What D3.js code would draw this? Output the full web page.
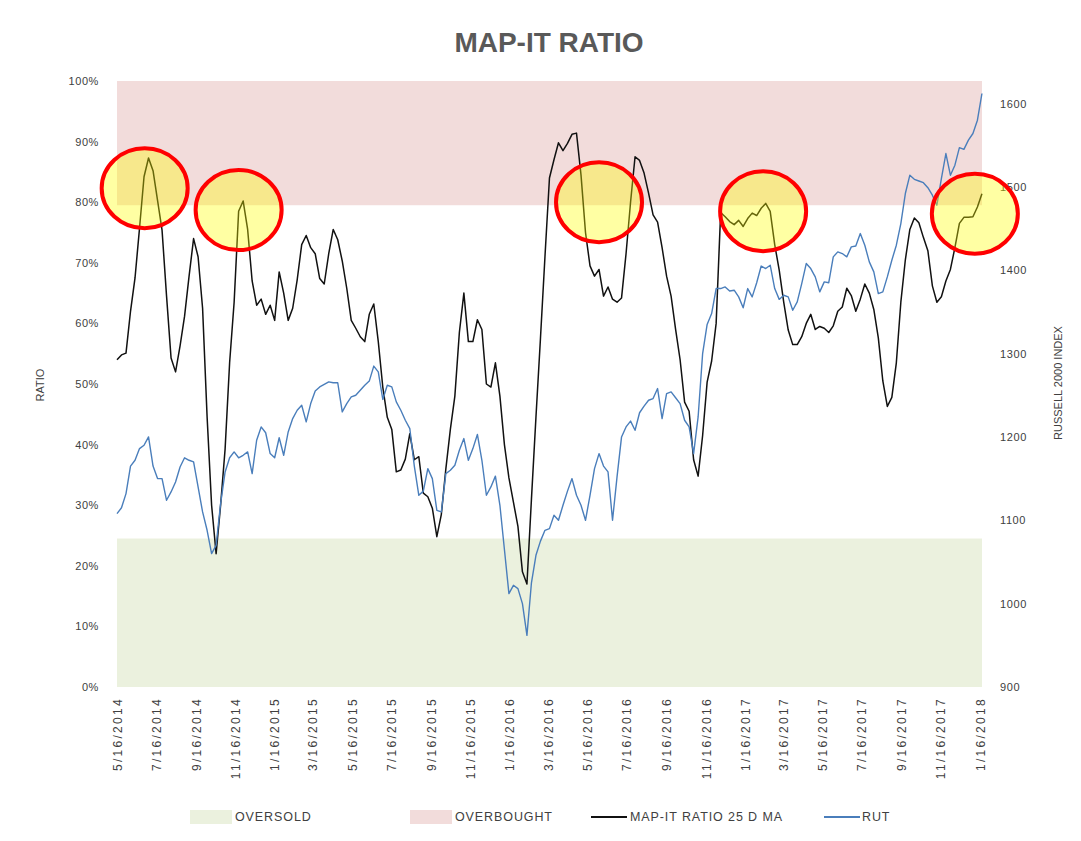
<!DOCTYPE html>
<meta charset="utf-8">
<style>
  body { margin: 0; background: #fff; }
  svg text { font-family: 'Liberation Sans', Arial, sans-serif; fill: #404040; }
  .tick text { font-size: 11px; letter-spacing: 0.6px; }
  .xaxis .tick text { font-size: 12px; letter-spacing: 2.3px; }
  .legend text { font-size: 12.5px; letter-spacing: 0.9px; }
</style>
<body>
<svg id="chart" width="1081" height="841"></svg>
<script src="https://cdn.jsdelivr.net/npm/d3@7"></script>
<script>
// weekly closes, first week below
var firstWeek = "2014-05-16";

// MAP-IT ratio 25 DMA, percent
var ratio = [
  54.0, 54.8, 55.1, 62.0, 67.5, 75.7, 84.2, 87.3, 85.2, 80.3,
  75.4, 64.5, 54.3, 52.0, 56.3, 61.2, 67.8, 74.0, 71.0, 62.5,
  44.6, 30.0, 22.0, 30.0, 39.3, 53.5, 63.5, 78.5, 80.2, 75.5,
  67.0, 63.0, 64.0, 61.5, 63.0, 60.5, 68.5, 65.0, 60.5, 62.5,
  67.2, 73.0, 74.5, 72.5, 71.5, 67.4, 66.5, 71.5, 75.5, 73.8,
  70.3, 65.8, 60.5, 59.2, 57.8, 57.0, 61.5, 63.2, 57.0, 49.5,
  44.5, 42.5, 35.5, 35.8, 37.6, 41.8, 37.5, 38.0, 32.0, 31.4,
  29.5, 24.8, 28.5, 36.0, 42.5, 48.0, 58.5, 65.0, 57.0, 57.0,
  60.6, 59.0, 50.0, 49.5, 53.5, 48.0, 40.0, 34.5, 30.5, 26.5,
  19.0, 17.0, 31.0, 44.5, 57.5, 71.0, 84.0, 87.0, 89.8, 88.5,
  89.7, 91.2, 91.4, 84.5, 75.0, 69.5, 67.8, 68.9, 64.5, 66.0,
  64.0, 63.5, 64.2, 71.5, 80.0, 87.5, 86.9, 84.8, 81.5, 77.9,
  76.7, 72.5, 67.8, 64.5, 59.0, 54.0, 47.0, 45.5, 37.5, 34.8,
  41.5, 50.3, 53.8, 60.0, 78.3, 77.6, 76.8, 76.3, 77.0, 76.0,
  77.3, 78.2, 77.8, 79.0, 79.8, 78.5, 73.0, 68.8, 63.5, 58.9,
  56.5, 56.5, 57.8, 60.0, 61.5, 59.0, 59.5, 59.2, 58.5, 59.6,
  62.0, 62.7, 65.8, 64.6, 62.0, 64.0, 66.5, 65.0, 62.3, 57.6,
  50.5, 46.3, 47.8, 53.5, 63.5, 70.5, 75.5, 77.4, 76.6, 74.2,
  72.0, 66.2, 63.5, 64.4, 67.0, 68.9, 72.5, 76.5, 77.5, 77.5,
  77.6, 79.2, 81.4
];

// Russell 2000 (RUT)
var rut = [
  1108, 1115, 1132, 1165, 1172, 1186, 1190, 1200, 1165, 1150,
  1150, 1124, 1134, 1146, 1164, 1175, 1172, 1170, 1140, 1110,
  1088, 1060, 1070, 1120, 1158, 1175, 1182, 1175, 1178, 1182,
  1156, 1196, 1212, 1205, 1180, 1175, 1199, 1178, 1206, 1222,
  1232, 1238, 1218, 1240, 1255, 1260, 1263, 1266, 1265, 1265,
  1230, 1240, 1248, 1250, 1256, 1262, 1267, 1285, 1278, 1245,
  1262, 1260, 1242, 1232, 1220, 1210, 1165, 1130, 1135, 1162,
  1150, 1112, 1110, 1156, 1160, 1166, 1184, 1198, 1172, 1186,
  1203, 1172, 1130, 1140, 1153, 1118, 1065, 1012, 1022, 1018,
  1000, 962, 1025, 1058, 1075, 1088, 1090, 1106, 1100, 1118,
  1135, 1150, 1130, 1118, 1100, 1130, 1162, 1180, 1165, 1158,
  1100, 1152, 1200, 1212, 1219, 1208, 1229, 1237, 1244, 1246,
  1258, 1222, 1252, 1254, 1247, 1240, 1220, 1212, 1180, 1224,
  1300, 1335, 1348, 1378, 1378, 1380, 1375, 1376, 1368, 1355,
  1378, 1368, 1385, 1405, 1402, 1406, 1378, 1365, 1370, 1368,
  1352, 1362, 1384, 1408, 1402, 1392, 1374, 1386, 1385, 1416,
  1422, 1420, 1416, 1428, 1429, 1444, 1430, 1410, 1398, 1372,
  1374, 1392, 1412, 1430, 1456, 1492, 1514, 1509, 1507, 1505,
  1499, 1490, 1478, 1510, 1540, 1514, 1526, 1547, 1545, 1556,
  1564, 1580, 1612
];

var tickLabels = [
  "5/16/2014", "7/16/2014", "9/16/2014", "11/16/2014", "1/16/2015", "3/16/2015",
  "5/16/2015", "7/16/2015", "9/16/2015", "11/16/2015", "1/16/2016", "3/16/2016",
  "5/16/2016", "7/16/2016", "9/16/2016", "11/16/2016", "1/16/2017", "3/16/2017",
  "5/16/2017", "7/16/2017", "9/16/2017", "11/16/2017", "1/16/2018"
];

var ratioTicks = [0, 10, 20, 30, 40, 50, 60, 70, 80, 90, 100];
var rutTicks = [900, 1000, 1100, 1200, 1300, 1400, 1500, 1600];

// zones on the ratio axis
var zoneNames = ["OVERSOLD", "OVERBOUGHT"];
var zoneLow = [0, 79.5];
var zoneHigh = [24.5, 100];

// highlighted spots
var markDates = ["2014-06-28", "2014-11-21", "2016-06-03", "2017-02-13", "2018-01-08"];
var markRatio = [82.3, 78.7, 80.0, 78.5, 78.1];

var zoneColor = { "OVERSOLD": "#ebf1de", "OVERBOUGHT": "#f2dcdb" };

var svg = d3.select("#chart");
var parseIso = d3.timeParse("%Y-%m-%d"),
    parseUs = d3.timeParse("%m/%d/%Y");

var start = parseIso(firstWeek);
var weeks = ratio.map(function(v, i) {
  return { date: d3.timeDay.offset(start, 7 * i), ratio: v, rut: rut[i] };
});

var plotLeft = 117, plotRight = 982, plotTop = 81, plotBottom = 687;

var x = d3.scaleTime()
    .domain([parseIso("2014-05-16"), parseIso("2018-01-16")])
    .range([plotLeft, 980]);
var y = d3.scaleLinear().domain([0, 100]).range([plotBottom, plotTop]);
var y2 = d3.scaleLinear().domain([900, 1627]).range([plotBottom, plotTop]);

// title
svg.append("text")
    .attr("x", 549).attr("y", 52)
    .attr("text-anchor", "middle")
    .style("font-size", "28px")
    .style("font-weight", "bold")
    .style("fill", "#595959")
    .text("MAP-IT RATIO");

// zones
svg.append("g").selectAll("rect")
    .data(zoneNames)
    .enter().append("rect")
    .attr("x", plotLeft)
    .attr("width", plotRight - plotLeft)
    .attr("y", function(d, i) { return y(zoneHigh[i]); })
    .attr("height", function(d, i) { return y(zoneLow[i]) - y(zoneHigh[i]); })
    .attr("fill", function(d) { return zoneColor[d]; });

// axes
var yAxis = svg.append("g")
    .attr("transform", "translate(104,0)")
    .call(d3.axisLeft(y).tickValues(ratioTicks).tickSize(0).tickPadding(5)
      .tickFormat(function(d) { return d + "%"; }));
yAxis.select(".domain").remove();

var y2Axis = svg.append("g")
    .attr("transform", "translate(995,0)")
    .call(d3.axisRight(y2).tickValues(rutTicks).tickSize(0).tickPadding(5)
      .tickFormat(d3.format("d")));
y2Axis.select(".domain").remove();

var xAxis = svg.append("g")
    .attr("class", "xaxis")
    .attr("transform", "translate(0," + (plotBottom + 8) + ")")
    .call(d3.axisBottom(x).tickValues(tickLabels.map(parseUs)).tickSize(0)
      .tickFormat(function(d, i) { return tickLabels[i]; }));
xAxis.select(".domain").remove();
xAxis.selectAll("text")
    .attr("transform", "rotate(-90)")
    .attr("text-anchor", "end")
    .attr("x", -2)
    .attr("y", 0)
    .attr("dy", "0.35em");

svg.selectAll(".tick text").style("fill", "#404040");

// axis titles
svg.append("text")
    .attr("transform", "translate(44,385) rotate(-90)")
    .attr("text-anchor", "middle")
    .style("font-size", "11px")
    .text("RATIO");

svg.append("text")
    .attr("transform", "translate(1062,383) rotate(-90)")
    .attr("text-anchor", "middle")
    .style("font-size", "11px")
    .text("RUSSELL 2000 INDEX");

// series
var ratioLine = d3.line()
    .x(function(d) { return x(d.date); })
    .y(function(d) { return y(d.ratio); });
var rutLine = d3.line()
    .x(function(d) { return x(d.date); })
    .y(function(d) { return y2(d.rut); });

svg.append("path")
    .datum(weeks)
    .attr("d", ratioLine)
    .attr("fill", "none")
    .attr("stroke", "#111")
    .attr("stroke-width", 1.5)
    .attr("stroke-linejoin", "round");

svg.append("path")
    .datum(weeks)
    .attr("d", rutLine)
    .attr("fill", "none")
    .attr("stroke", "#4a7ebb")
    .attr("stroke-width", 1.4)
    .attr("stroke-linejoin", "round");

// highlight circles
svg.append("g").selectAll("ellipse")
    .data(markDates)
    .enter().append("ellipse")
    .attr("cx", function(d) { return x(parseIso(d)); })
    .attr("cy", function(d, i) { return y(markRatio[i]); })
    .attr("rx", 43)
    .attr("ry", 40)
    .attr("fill", "#ffff00")
    .attr("fill-opacity", 0.36)
    .attr("stroke", "#ff0000")
    .attr("stroke-width", 4);

// legend
var legend = svg.append("g").attr("class", "legend");
var ly = 817;

legend.append("rect").attr("x", 190).attr("y", ly - 7).attr("width", 42).attr("height", 14)
    .attr("fill", zoneColor["OVERSOLD"]);
legend.append("text").attr("x", 235).attr("y", ly).attr("dy", "0.35em").text("OVERSOLD");

legend.append("rect").attr("x", 410).attr("y", ly - 7).attr("width", 42).attr("height", 14)
    .attr("fill", zoneColor["OVERBOUGHT"]);
legend.append("text").attr("x", 455).attr("y", ly).attr("dy", "0.35em").text("OVERBOUGHT");

legend.append("line").attr("x1", 591).attr("x2", 627).attr("y1", ly).attr("y2", ly)
    .attr("stroke", "#111").attr("stroke-width", 2);
legend.append("text").attr("x", 630).attr("y", ly).attr("dy", "0.35em").text("MAP-IT RATIO 25 D MA");

legend.append("line").attr("x1", 824).attr("x2", 860).attr("y1", ly).attr("y2", ly)
    .attr("stroke", "#4a7ebb").attr("stroke-width", 2);
legend.append("text").attr("x", 862).attr("y", ly).attr("dy", "0.35em").text("RUT");
</script>
</body>
